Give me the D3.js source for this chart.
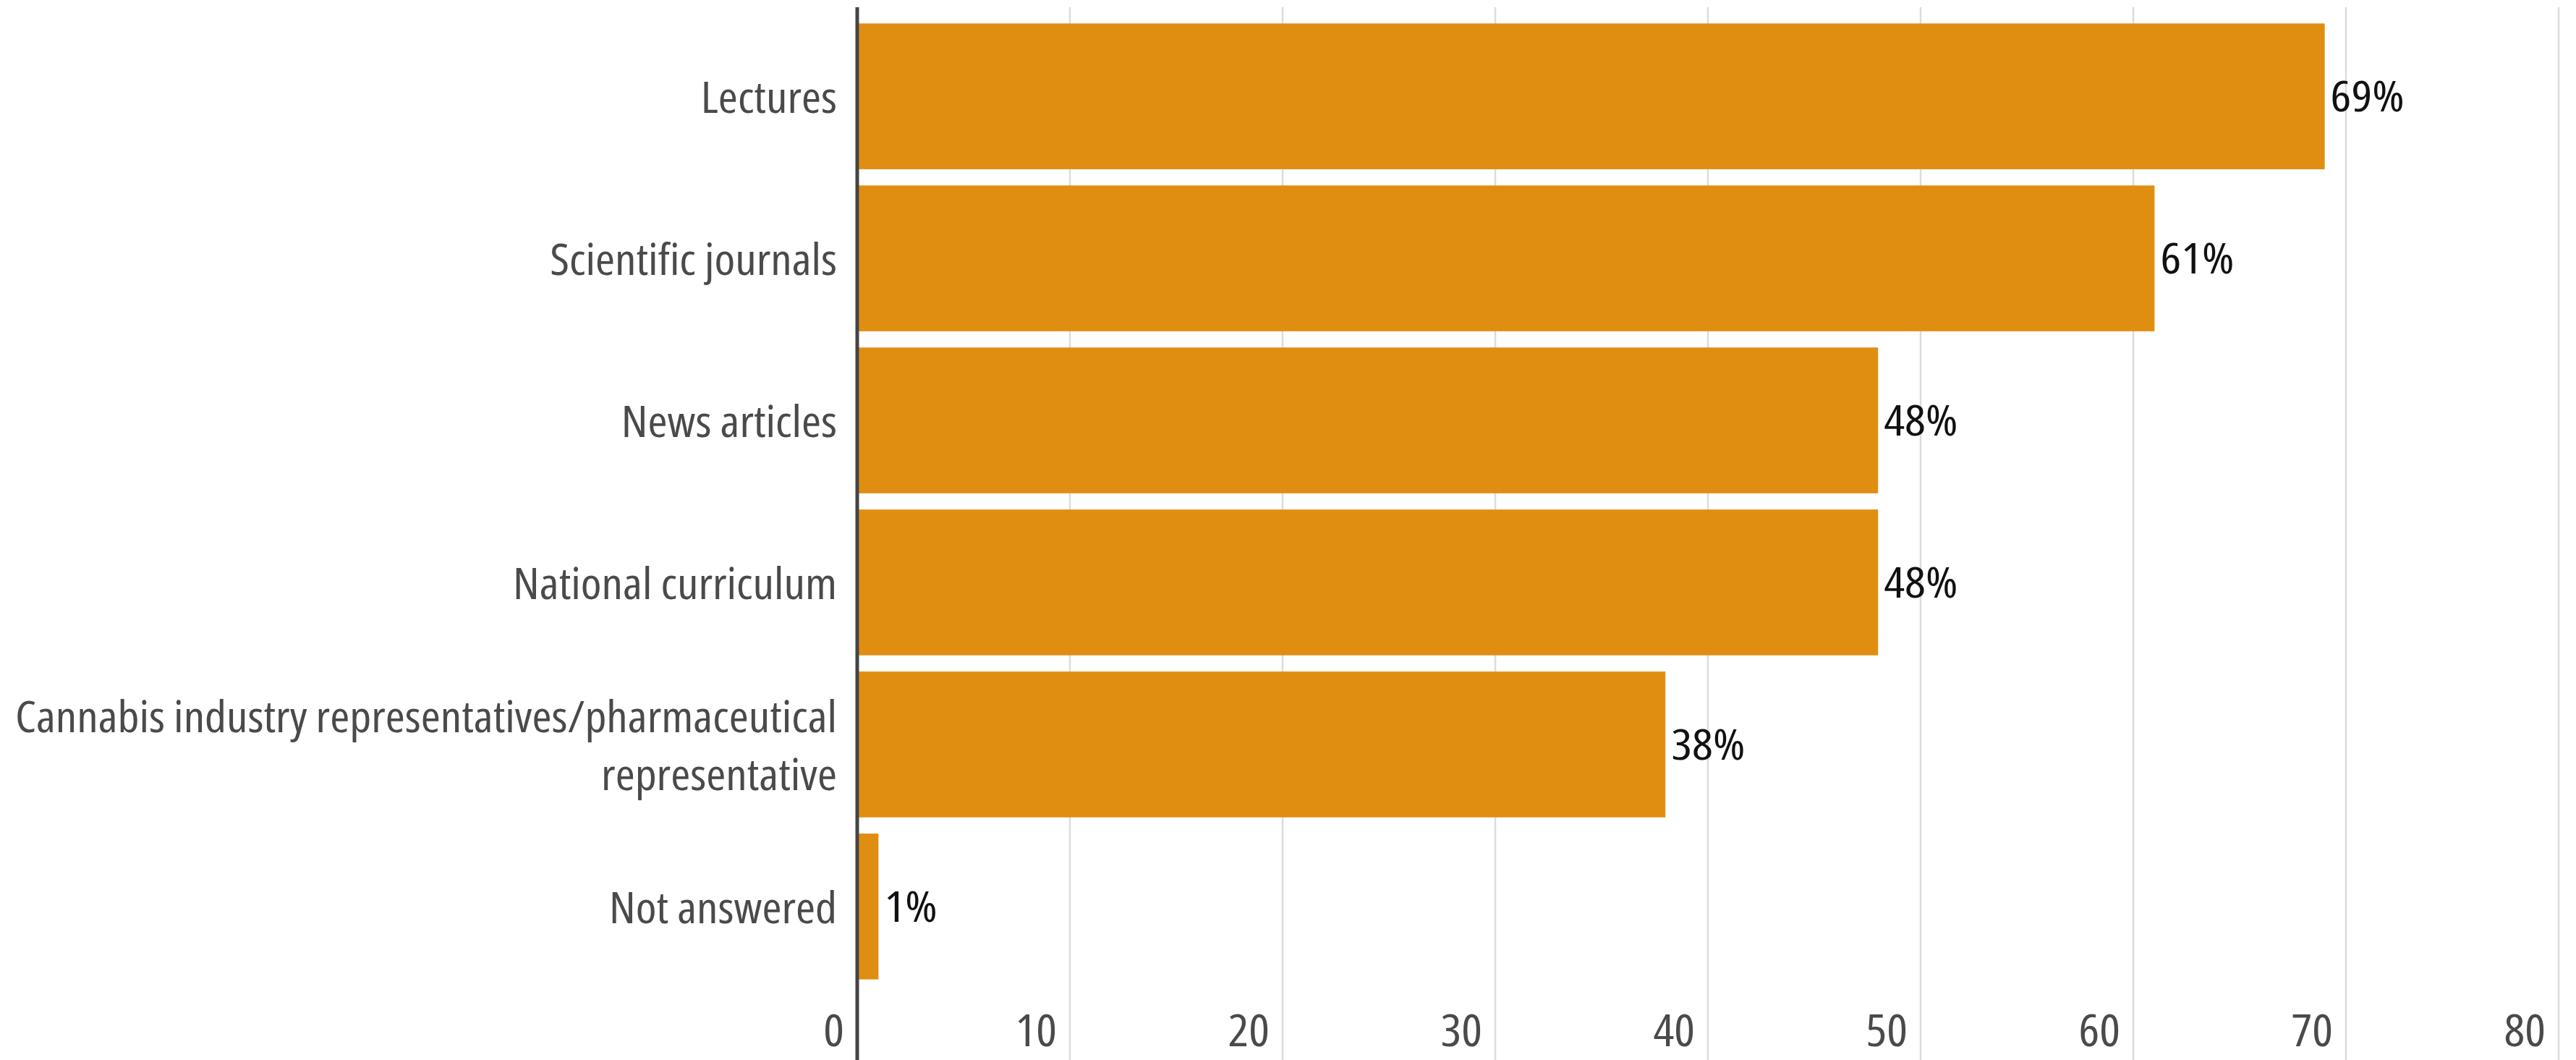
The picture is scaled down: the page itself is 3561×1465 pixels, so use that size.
<!DOCTYPE html>
<html><head><meta charset="utf-8">
<script src="https://cdn.jsdelivr.net/npm/d3@7"></script>
<style>
html,body{margin:0;padding:0;background:#fff;}
svg{display:block;}
</style></head>
<body><svg id="chart" width="3561" height="1465"></svg>
<script>
const categories = ["Lectures", "Scientific journals", "News articles", "National curriculum", "Cannabis industry representatives/pharmaceutical representative", "Not answered"];
const categoryLines = [["Lectures"], ["Scientific journals"], ["News articles"], ["National curriculum"], ["Cannabis industry representatives/pharmaceutical", "representative"], ["Not answered"]];
const values = [69, 61, 48, 48, 38, 1];
const valueLabels = ["69%", "61%", "48%", "48%", "38%", "1%"];
const tickValues = [0, 10, 20, 30, 40, 50, 60, 70, 80];

const W = 3561, H = 1465;
const svg = d3.select("#chart");
const x = d3.scaleLinear().domain([0, 80]).range([1185, 3537]);
const y = d3.scaleBand().domain(categories).range([10, 1376]).paddingInner(0.1).paddingOuter(0.1);

const labelFont = "'Open Sans', 'Liberation Sans Narrow', sans-serif";
const CAP = 0.357; // half cap height ratio

// gridlines
svg.append("g").selectAll("line").data(tickValues.filter(d => d > 0)).join("line")
  .attr("x1", d => x(d)).attr("x2", d => x(d))
  .attr("y1", 10).attr("y2", H)
  .attr("stroke", "#dcdcdc").attr("stroke-width", 2.5);

// bars
svg.append("g").selectAll("rect").data(values).join("rect")
  .attr("x", x(0)).attr("y", (d, i) => y(categories[i]))
  .attr("width", d => x(d) - x(0)).attr("height", y.bandwidth())
  .attr("fill", "#e08e12");

// axis line
svg.append("line").attr("x1", x(0)).attr("x2", x(0)).attr("y1", 10).attr("y2", H)
  .attr("stroke", "#444").attr("stroke-width", 5);

// tick labels
const tfs = 62;
svg.append("g").selectAll("text").data(tickValues).join("text")
  .attr("transform", d => `translate(${x(d) - 18},1446) scale(1.09,1)`)
  .attr("text-anchor", "end")
  .style("font-family", labelFont).style("font-stretch", "condensed")
  .style("font-size", tfs + "px").attr("fill", "#4a4a4a")
  .text(d => d);

// category labels
const cfs = 60;
const cg = svg.append("g");
categoryLines.forEach((lines, i) => {
  const cy = y(categories[i]) + y.bandwidth() / 2 + 1.5;
  const lh = 80;
  const t = cg.append("text").attr("text-anchor", "end")
    .attr("transform", `translate(${x(0) - 28},${cy + CAP * cfs}) scale(1.09,1)`)
    .style("font-family", labelFont).style("font-stretch", "condensed")
    .style("font-size", cfs + "px").attr("fill", "#4a4a4a");
  lines.forEach((ln, j) => {
    t.append("tspan").attr("x", 0)
      .attr("y", (j - (lines.length - 1) / 2) * lh)
      .text(ln);
  });
});

// value labels
const vfs = 59;
svg.append("g").selectAll("text").data(values).join("text")
  .attr("transform", (d, i) => `translate(${x(d) + 8},${y(categories[i]) + y.bandwidth() / 2 + CAP * vfs}) scale(1.15,1)`)
  .style("font-family", labelFont).style("font-stretch", "condensed")
  .style("font-size", vfs + "px").attr("fill", "#111")
  .text((d, i) => valueLabels[i]);
</script></body></html>
